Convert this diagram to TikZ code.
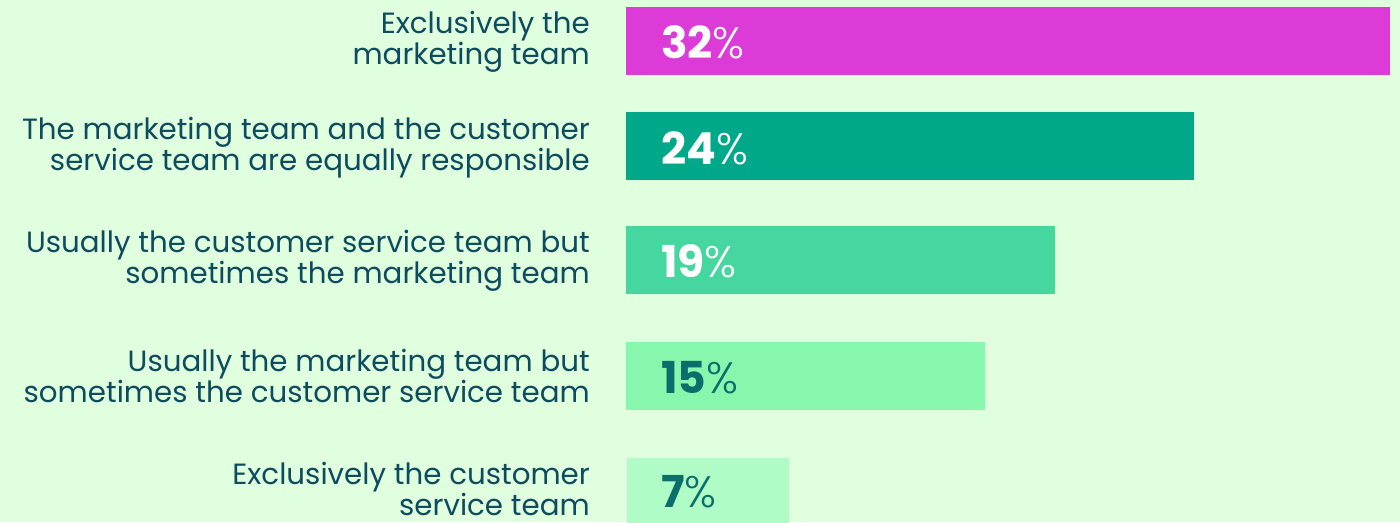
\documentclass[tikz,border=0pt]{standalone}
\usepackage{fontspec}
\setmainfont{Poppins}
\newfontfamily\plight{Poppins Light}
\definecolor{bg}{HTML}{E0FFDE}
\definecolor{cA}{HTML}{DD3BD8}
\definecolor{cB}{HTML}{00A88A}
\definecolor{cC}{HTML}{46D6A0}
\definecolor{cD}{HTML}{88F7AE}
\definecolor{cE}{HTML}{B0FCC6}
\definecolor{lbl}{HTML}{0D4B5E}
\definecolor{dk}{HTML}{0A6E6A}
\begin{document}
\begin{tikzpicture}[x=1pt,y=-1pt,
  lab/.style={anchor=east,align=right,text=lbl,inner sep=0pt,font=\fontsize{29.3}{31}\selectfont},
  pct/.style={anchor=west,inner sep=0pt,font=\fontsize{44}{46}\selectfont\bfseries}]
\fill[bg] (0,0) rectangle (1400,522);
\useasboundingbox (0,0) rectangle (1400,522);
\fill[cA] (626,7) rectangle (1390,75);
\fill[cB] (626,112) rectangle (1194,180);
\fill[cC] (626,226) rectangle (1055,294);
\fill[cD] (626,342) rectangle (985,410);
\fill[cE] (627,458) rectangle (789,526);
\node[lab] (l1) at (590,42) {Exclusively the\\marketing team};
\node[lab] (l2) at (590,148) {The marketing team and the customer\\service team are equally responsible};
\node[lab] (l3) at (590,261) {Usually the customer service team but\\sometimes the marketing team};
\node[lab] (l4) at (590,376) {Usually the marketing team but\\sometimes the customer service team};
\node[lab] (l5) at (590,489) {Exclusively the customer\\service team};
\node[pct,text=white] (p1) at (661,42) {32{\plight\mdseries\%}};
\node[pct,text=white] (p2) at (661,148) {24{\plight\mdseries\%}};
\node[pct,text=white] (p3) at (661,261) {19{\plight\mdseries\%}};
\node[pct,text=dk] (p4) at (661,378) {15{\plight\mdseries\%}};
\node[pct,text=dk] (p5) at (661,492) {7{\plight\mdseries\%}};
\end{tikzpicture}
\end{document}
